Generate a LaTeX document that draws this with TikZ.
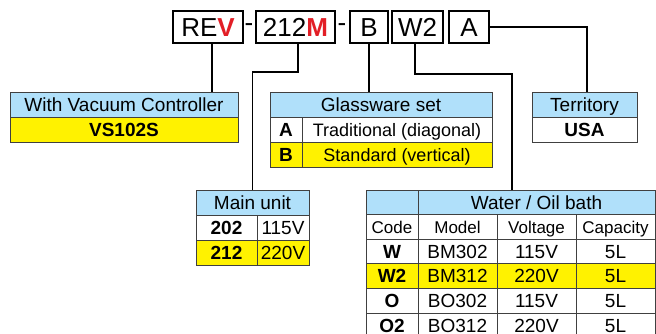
\documentclass[tikz,border=0pt]{standalone}
\usepackage{fontspec}
\setmainfont{Liberation Sans}
\definecolor{skyblue}{RGB}{176,224,250}
\definecolor{hilite}{RGB}{255,242,0}
\definecolor{codered}{RGB}{226,30,38}
\tikzset{
	codebox/.style={draw, line width=1.4pt, minimum height=32, inner sep=0pt, text height=18.6, text depth=0, font=\fontsize{26}{26}\selectfont},
	link/.style={line width=1.8pt},
	cell/.style={draw=black!75, line width=0.7pt, inner sep=0pt, minimum height=25, text height=13.6, text depth=0, font=\fontsize{19}{19}\selectfont},
	head/.style={cell, fill=skyblue},
	pick/.style={cell, fill=hilite},
	row/.style={minimum height=24.6},
}
\begin{document}
\begin{tikzpicture}[x = 1pt, y = -1pt]
	\useasboundingbox (0, 0) rectangle (656, 334);
	
	% Code boxes
	\node[codebox, minimum width=70] (revcode) at (208, 27) {RE\textcolor{codered}{\bfseries V}};
	\node[font=\fontsize{26}{26}\selectfont, inner sep=0pt] (dash1) at (249, 28) {-};
	\node[codebox, minimum width=79] (unitcode) at (295.5, 27) {212\textcolor{codered}{\bfseries M}};
	\node[font=\fontsize{26}{26}\selectfont, inner sep=0pt] (dash2) at (342, 28) {-};
	\node[codebox, minimum width=38] (glasscode) at (369, 27) {B};
	\node[codebox, minimum width=51] (bathcode) at (417.5, 27) {W2};
	\node[codebox, minimum width=40] (landcode) at (469, 27) {A};
	
	% Vacuum controller
	\node[head, minimum width=228] (vachead) at (124, 104.5) {With Vacuum Controller};
	\node[pick, minimum width=228] (vacval) at (124, 129.5) {\bfseries VS102S};
	
	% Glassware
	\node[head, minimum width=222] (glasshead) at (381, 104.5) {Glassware set};
	\node[cell, minimum width=32] (glassAkey) at (286, 129.5) {\bfseries A};
	\node[cell, minimum width=190, font=\fontsize{18}{18}\selectfont] (glassAval) at (397, 129.5) {Traditional (diagonal)};
	\node[pick, minimum width=32] (glassBkey) at (286, 154.5) {\bfseries B};
	\node[pick, minimum width=190, font=\fontsize{18}{18}\selectfont] (glassBval) at (397, 154.5) {Standard (vertical)};
	
	% Territory
	\node[head, minimum width=105] (landhead) at (584.5, 104.5) {Territory};
	\node[cell, minimum width=105] (landval) at (584.5, 129.5) {\bfseries USA};
	
	% Main unit
	\node[head, minimum width=113] (unithead) at (252.5, 202.5) {Main unit};
	\node[cell, minimum width=61] (unitA) at (226.5, 227.5) {\bfseries 202};
	\node[cell, minimum width=52] (unitAvolt) at (283, 227.5) {115V};
	\node[pick, minimum width=61] (unitB) at (226.5, 252.5) {\bfseries 212};
	\node[pick, minimum width=52] (unitBvolt) at (283, 252.5) {220V};
	
	% Water / oil bath
	\node[head, row, minimum width=52] (bathcorner) at (392, 202.3) {};
	\node[head, row, minimum width=237] (bathhead) at (536.5, 202.3) {Water / Oil bath};
	\node[cell, row, minimum width=52, font=\fontsize{17}{17}\selectfont] (colcode) at (392, 226.9) {Code};
	\node[cell, row, minimum width=79, font=\fontsize{17}{17}\selectfont] (colmodel) at (457.5, 226.9) {Model};
	\node[cell, row, minimum width=79, font=\fontsize{17}{17}\selectfont] (colvolt) at (536.5, 226.9) {Voltage};
	\node[cell, row, minimum width=79, font=\fontsize{17}{17}\selectfont] (colcap) at (615.5, 226.9) {Capacity};
	
	\node[cell, row, minimum width=52] (wcode) at (392, 251.5) {\bfseries W};
	\node[cell, row, minimum width=79] (wmodel) at (457.5, 251.5) {BM302};
	\node[cell, row, minimum width=79] (wvolt) at (536.5, 251.5) {115V};
	\node[cell, row, minimum width=79] (wcap) at (615.5, 251.5) {5L};
	
	\node[pick, row, minimum width=52] (wtcode) at (392, 276.1) {\bfseries W2};
	\node[pick, row, minimum width=79] (wtmodel) at (457.5, 276.1) {BM312};
	\node[pick, row, minimum width=79] (wtvolt) at (536.5, 276.1) {220V};
	\node[pick, row, minimum width=79] (wtcap) at (615.5, 276.1) {5L};
	
	\node[cell, row, minimum width=52] (ocode) at (392, 300.7) {\bfseries O};
	\node[cell, row, minimum width=79] (omodel) at (457.5, 300.7) {BO302};
	\node[cell, row, minimum width=79] (ovolt) at (536.5, 300.7) {115V};
	\node[cell, row, minimum width=79] (ocap) at (615.5, 300.7) {5L};
	
	\node[cell, row, minimum width=52] (otcode) at (392, 325.3) {\bfseries O2};
	\node[cell, row, minimum width=79] (otmodel) at (457.5, 325.3) {BO312};
	\node[cell, row, minimum width=79] (otvolt) at (536.5, 325.3) {220V};
	\node[cell, row, minimum width=79] (otcap) at (615.5, 325.3) {5L};
	
	% Connectors
	\coordinate (bathtop) at (512, 190);
	\draw[link] ([xshift=4pt]revcode.south) coordinate (revfoot) -- (revfoot |- vachead.north);
	\draw[link] ([xshift=2.5pt]unitcode.south) -- ++(0, 28) -| (unithead.north);
	\draw[link] (glasscode.south) -- (glasscode.south |- glasshead.north);
	\draw[link] ([xshift=-2.5pt]bathcode.south) -- ++(0, 30) -| (bathtop);
	\draw[link] (landcode.east) -| ([xshift=2.5pt]landhead.north);
\end{tikzpicture}
\end{document}
